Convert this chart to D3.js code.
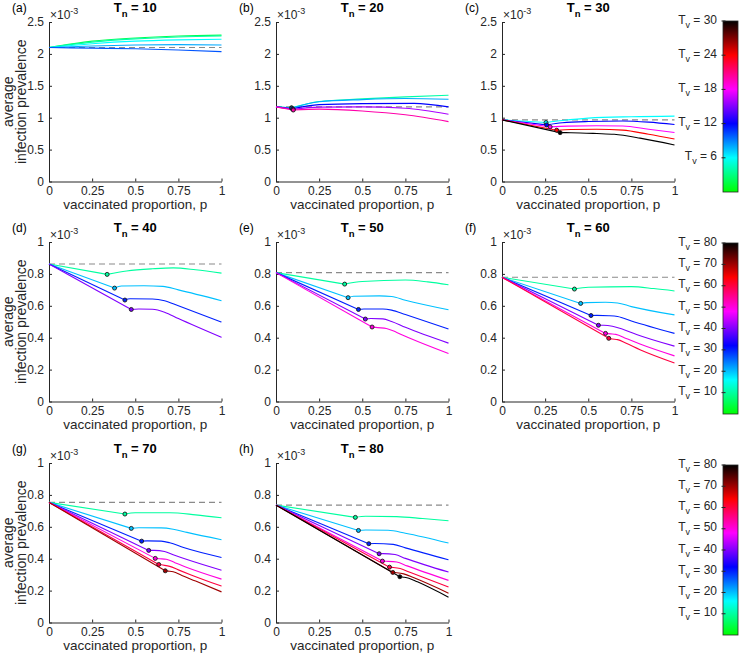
<!DOCTYPE html>
<html><head><meta charset="utf-8">
<script src="https://cdn.jsdelivr.net/npm/d3@7"></script>
<style>
body{margin:0;background:#fff;}
svg{display:block;font-family:"Liberation Sans",Arial,Helvetica,sans-serif;}
</style></head><body>
<svg id="fig" width="739" height="654"></svg>
<script>
// values, prevalence in units of 1e-3
const tnList = [10, 20, 30, 40, 50, 60, 70, 80];
const letters = ["a", "b", "c", "d", "e", "f", "g", "h"];
const baseline = [2.1, 1.17, 0.966, 0.862, 0.808, 0.779, 0.753, 0.736];
const yTicksTop = [0, 0.5, 1, 1.5, 2, 2.5];
const yTicksLow = [0, 0.2, 0.4, 0.6, 0.8, 1];
const xTicks = [0, 0.25, 0.5, 0.75, 1];
const cbTicksTop = [6, 12, 18, 24, 30];
const cbTicksLow = [10, 20, 30, 40, 50, 60, 70, 80];

// T_v of each curve, per panel
const tvA = [2, 4, 6, 8, 10];
const tvB = [4, 8, 12, 16, 20];
const tvC = [6, 12, 18, 24, 30];
const tvD = [10, 20, 30, 40];
const tvE = [10, 20, 30, 40, 50];
const tvF = [10, 20, 30, 40, 50, 60];
const tvG = [10, 20, 30, 40, 50, 60, 70];
const tvH = [10, 20, 30, 40, 50, 60, 70, 80];

// curves as [p, prevalence]; in panels b-h the second point is the circled minimum
const curvesA = [
  [[0,2.1],[0.25,2.2],[0.5,2.25],[0.75,2.28],[1,2.295]],
  [[0,2.1],[0.25,2.185],[0.5,2.235],[0.75,2.265],[1,2.28]],
  [[0,2.1],[0.25,2.16],[0.5,2.2],[0.75,2.22],[1,2.23]],
  [[0,2.1],[0.25,2.125],[0.5,2.14],[0.75,2.145],[1,2.14]],
  [[0,2.1],[0.25,2.09],[0.5,2.08],[0.75,2.06],[1,2.035]]
];
const curvesB = [
  [[0,1.17],[0.09,1.155],[0.25,1.255],[0.5,1.295],[0.75,1.326],[1,1.352]],
  [[0,1.17],[0.09,1.15],[0.25,1.25],[0.5,1.284],[0.75,1.3],[1,1.289]],
  [[0,1.17],[0.095,1.14],[0.25,1.205],[0.5,1.221],[0.8,1.225],[1,1.169]],
  [[0,1.17],[0.1,1.13],[0.25,1.165],[0.5,1.17],[0.75,1.148],[1,1.053]],
  [[0,1.17],[0.1,1.12],[0.25,1.135],[0.5,1.106],[0.75,1.045],[1,0.938]]
];
const curvesC = [
  [[0,0.966],[0.255,0.924],[0.35,0.955],[0.5,0.993],[0.75,1.015],[1,1.024]],
  [[0,0.966],[0.259,0.887],[0.35,0.92],[0.5,0.94],[0.7,0.948],[0.85,0.93],[1,0.893]],
  [[0,0.966],[0.279,0.856],[0.38,0.868],[0.55,0.874],[0.7,0.87],[0.85,0.82],[1,0.767]],
  [[0,0.966],[0.317,0.804],[0.4,0.815],[0.55,0.818],[0.7,0.805],[0.85,0.74],[1,0.667]],
  [[0,0.966],[0.337,0.766],[0.4,0.765],[0.55,0.752],[0.65,0.74],[0.8,0.68],[1,0.572]]
];
const curvesD = [
  [[0,0.862],[0.337,0.797],[0.45,0.818],[0.6,0.832],[0.72,0.838],[0.85,0.826],[1,0.805]],
  [[0,0.862],[0.38,0.711],[0.42,0.724],[0.55,0.726],[0.66,0.722],[0.75,0.7],[1,0.632]],
  [[0,0.862],[0.44,0.636],[0.47,0.644],[0.6,0.643],[0.67,0.632],[0.75,0.6],[1,0.498]],
  [[0,0.862],[0.477,0.577],[0.52,0.58],[0.6,0.578],[0.67,0.56],[0.75,0.52],[1,0.402]]
];
const curvesE = [
  [[0,0.808],[0.398,0.736],[0.5,0.752],[0.75,0.762],[0.88,0.75],[1,0.732]],
  [[0,0.808],[0.418,0.651],[0.45,0.66],[0.6,0.662],[0.67,0.658],[0.75,0.635],[1,0.575]],
  [[0,0.808],[0.478,0.577],[0.51,0.58],[0.62,0.58],[0.67,0.573],[0.75,0.545],[1,0.454]],
  [[0,0.808],[0.518,0.517],[0.55,0.52],[0.62,0.518],[0.67,0.502],[0.75,0.465],[1,0.366]],
  [[0,0.808],[0.557,0.467],[0.59,0.463],[0.64,0.458],[0.7,0.433],[0.78,0.395],[1,0.301]]
];
const curvesF = [
  [[0,0.779],[0.42,0.705],[0.5,0.716],[0.75,0.72],[0.88,0.708],[1,0.693]],
  [[0,0.779],[0.456,0.615],[0.49,0.62],[0.6,0.622],[0.67,0.618],[0.75,0.595],[1,0.543]],
  [[0,0.779],[0.516,0.539],[0.55,0.54],[0.62,0.538],[0.67,0.533],[0.75,0.505],[1,0.427]],
  [[0,0.779],[0.559,0.478],[0.59,0.478],[0.64,0.472],[0.7,0.453],[0.78,0.42],[1,0.347]],
  [[0,0.779],[0.6,0.427],[0.63,0.424],[0.66,0.421],[0.72,0.395],[0.8,0.36],[1,0.286]],
  [[0,0.779],[0.619,0.396],[0.64,0.392],[0.67,0.388],[0.72,0.365],[0.8,0.325],[1,0.242]]
];
const curvesG = [
  [[0,0.753],[0.44,0.68],[0.5,0.688],[0.7,0.688],[0.85,0.675],[1,0.657]],
  [[0,0.753],[0.477,0.59],[0.52,0.594],[0.65,0.593],[0.72,0.585],[0.8,0.565],[1,0.519]],
  [[0,0.753],[0.537,0.51],[0.57,0.512],[0.65,0.51],[0.7,0.5],[0.78,0.47],[1,0.408]],
  [[0,0.753],[0.578,0.452],[0.61,0.452],[0.67,0.445],[0.72,0.425],[0.8,0.395],[1,0.328]],
  [[0,0.753],[0.616,0.402],[0.64,0.4],[0.68,0.397],[0.73,0.375],[0.8,0.345],[1,0.272]],
  [[0,0.753],[0.636,0.364],[0.66,0.36],[0.7,0.352],[0.75,0.33],[0.82,0.3],[1,0.228]],
  [[0,0.753],[0.674,0.324],[0.69,0.322],[0.72,0.318],[0.77,0.295],[0.85,0.26],[1,0.192]]
];
const curvesH = [
  [[0,0.736],[0.46,0.659],[0.52,0.666],[0.7,0.664],[0.85,0.652],[1,0.638]],
  [[0,0.736],[0.478,0.577],[0.52,0.58],[0.65,0.578],[0.75,0.56],[1,0.498]],
  [[0,0.736],[0.538,0.494],[0.57,0.495],[0.68,0.49],[0.75,0.468],[1,0.393]],
  [[0,0.736],[0.598,0.431],[0.62,0.432],[0.69,0.426],[0.75,0.402],[1,0.316]],
  [[0,0.736],[0.617,0.385],[0.64,0.384],[0.7,0.379],[0.76,0.355],[1,0.264]],
  [[0,0.736],[0.658,0.347],[0.68,0.345],[0.72,0.338],[0.78,0.313],[1,0.222]],
  [[0,0.736],[0.677,0.314],[0.7,0.312],[0.74,0.305],[0.8,0.28],[1,0.184]],
  [[0,0.736],[0.718,0.287],[0.74,0.284],[0.77,0.278],[0.82,0.255],[1,0.159]]
];

const tvSets = [tvA, tvB, tvC, tvD, tvE, tvF, tvG, tvH];
const curveSets = [curvesA, curvesB, curvesC, curvesD, curvesE, curvesF, curvesG, curvesH];

// layout
const colX = [49, 276, 502];
const rowY = [22, 242, 463];
const axW = 172.5, axH = 159.5;
const cbX = 723, cbW = 15;
const cbBox = [[21, 192], [243, 414], [465, 635]];
const ink = "#262626";

// colormap green -> cyan -> blue -> magenta -> red -> black
const cmapStops = ["#00ff00","#00ff80","#00ffff","#0080ff","#0000ff","#8000ff","#ff00ff","#ff0080","#ff0000","#800000","#000000"];
const cmap = d3.scaleLinear()
  .domain(cmapStops.map((c, i) => i / (cmapStops.length - 1)))
  .range(cmapStops)
  .interpolate(d3.interpolateRgb);

const svg = d3.select("#fig");

const grad = svg.append("defs").append("linearGradient")
  .attr("id", "cbar").attr("x1", 0).attr("y1", 1).attr("x2", 0).attr("y2", 0);
grad.selectAll("stop").data(cmapStops).enter().append("stop")
  .attr("offset", (c, i) => i / (cmapStops.length - 1))
  .attr("stop-color", c => c);

const lineLin = d3.line().curve(d3.curveLinear);
const lineSmooth = d3.line().curve(d3.curveMonotoneX);

function drawPanel(i) {
  const row = Math.floor(i / 3), col = i % 3;
  const L = colX[col], T = rowY[row];
  const yMax = row === 0 ? 2.5 : 1;
  const cMax = row === 0 ? 30 : 80;
  const x = d3.scaleLinear().domain([0, 1]).range([L, L + axW]);
  const y = d3.scaleLinear().domain([0, yMax]).range([T + axH, T]);
  const g = svg.append("g");

  // axes (ticks inside, no box)
  const ax = g.append("g").attr("transform", `translate(${L},0)`)
    .call(d3.axisLeft(y).tickValues(row === 0 ? yTicksTop : yTicksLow)
      .tickFormat(d => String(d)).tickSizeInner(-3).tickSizeOuter(0).tickPadding(5));
  const bx = g.append("g").attr("transform", `translate(0,${T + axH})`)
    .call(d3.axisBottom(x).tickValues(xTicks)
      .tickFormat(d => String(d)).tickSizeInner(-3).tickSizeOuter(0).tickPadding(3));
  [ax, bx].forEach(a => {
    a.selectAll("path, line").attr("stroke", ink).attr("stroke-width", 1);
    a.selectAll("text").attr("fill", ink).style("font-size", "12px").style("font-family", "inherit");
  });
  bx.selectAll("text").attr("dy", "0.85em");

  // dashed reference: prevalence without vaccination
  g.append("line")
    .attr("x1", x(0)).attr("x2", x(1))
    .attr("y1", y(baseline[i])).attr("y2", y(baseline[i]))
    .attr("stroke", "#8a8a8a").attr("stroke-width", 1.2).attr("stroke-dasharray", "6,4");

  const curves = curveSets[i], tvs = tvSets[i];
  const marked = i > 0;
  curves.forEach((pts, k) => {
    const col = cmap(tvs[k] / cMax);
    const xy = pts.map(d => [x(d[0]), y(d[1])]);
    if (marked) {
      g.append("path").attr("d", lineLin(xy.slice(0, 2)))
        .attr("fill", "none").attr("stroke", col).attr("stroke-width", 1.1);
      g.append("path").attr("d", lineSmooth(xy.slice(1)))
        .attr("fill", "none").attr("stroke", col).attr("stroke-width", 1.1);
    } else {
      g.append("path").attr("d", lineSmooth(xy))
        .attr("fill", "none").attr("stroke", col).attr("stroke-width", 1.1);
    }
  });
  if (marked) {
    curves.forEach((pts, k) => {
      g.append("circle").attr("cx", x(pts[1][0])).attr("cy", y(pts[1][1])).attr("r", 2)
        .attr("fill", cmap(tvs[k] / cMax)).attr("stroke", "#1a1a1a").attr("stroke-width", 0.9);
    });
  }

  // exponent label
  const ex = g.append("text").attr("x", L + 1).attr("y", T - 3)
    .attr("fill", ink).style("font-size", "12px");
  ex.append("tspan").text("\u00d710");
  ex.append("tspan").attr("dy", -5).style("font-size", "9px").text("-3");

  // title
  const tt = g.append("text").attr("x", L + axW / 2).attr("y", T - 10)
    .attr("text-anchor", "middle").style("font-size", "13px").style("font-weight", "bold");
  tt.append("tspan").text("T");
  tt.append("tspan").attr("dy", 5).style("font-size", "9.5px").text("n");
  tt.append("tspan").attr("dy", -5).text(" = " + tnList[i]);

  // panel letter
  g.append("text").attr("x", L - 37).attr("y", T - 10)
    .style("font-size", "12px").text("(" + letters[i] + ")");

  // x label
  g.append("text").attr("x", L + axW / 2).attr("y", T + axH + 27.5)
    .attr("text-anchor", "middle").attr("fill", ink).style("font-size", "13.5px")
    .text("vaccinated proportion, p");

  if (col === 0) {
    const yl = g.append("text")
      .attr("transform", `translate(0,${T + axH / 2}) rotate(-90)`)
      .attr("text-anchor", "middle").attr("fill", ink).style("font-size", "14px");
    yl.append("tspan").attr("x", 0).attr("y", 12.5).text("average");
    yl.append("tspan").attr("x", 0).attr("y", 26).text("infection prevalence");
  }
}

function drawColorbar(r) {
  const [top, bot] = cbBox[r];
  const cMax = r === 0 ? 30 : 80;
  const ticks = r === 0 ? cbTicksTop : cbTicksLow;
  const s = d3.scaleLinear().domain([0, cMax]).range([bot, top]);
  const g = svg.append("g");
  g.append("rect").attr("x", cbX).attr("y", top).attr("width", cbW).attr("height", bot - top)
    .attr("fill", "url(#cbar)").attr("stroke", ink).attr("stroke-width", 0.8);
  ticks.forEach(t => {
    g.append("line").attr("x1", cbX - 1.5).attr("x2", cbX + 2.5)
      .attr("y1", s(t)).attr("y2", s(t)).attr("stroke", ink).attr("stroke-width", 1);
    const lab = g.append("text").attr("x", cbX - 6).attr("y", s(t) + 2.5)
      .attr("text-anchor", "end").attr("fill", ink).style("font-size", "12px");
    lab.append("tspan").text("T");
    lab.append("tspan").attr("dy", 4).style("font-size", "9px").text("v");
    lab.append("tspan").attr("dy", -4).text(" = " + t);
  });
}

tnList.forEach((tn, i) => drawPanel(i));
[0, 1, 2].forEach(drawColorbar);
</script>
</body></html>
